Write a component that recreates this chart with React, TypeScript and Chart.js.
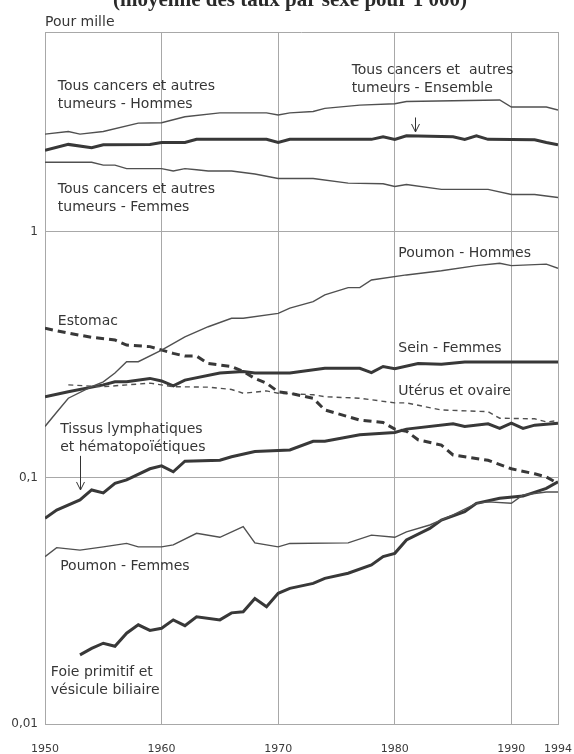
import React, { useEffect, useRef } from 'react';
import { Chart, registerables } from 'chart.js';

Chart.register(...registerables);

// ---------- Data (per mille, log scale) ----------
const xTickYears = [1950, 1960, 1970, 1980, 1990, 1994];
const yTickValues = [0.01, 0.1, 1];
const yTickLabels = ['0,01', '0,1', '1'];

const hommesYears = [1950, 1952, 1953, 1955, 1958, 1960, 1962, 1965, 1969, 1970, 1971, 1973, 1974, 1977, 1980, 1981, 1989, 1990, 1993, 1994];
const hommesValues = [2.50, 2.56, 2.50, 2.56, 2.77, 2.78, 2.94, 3.05, 3.05, 2.99, 3.05, 3.09, 3.18, 3.28, 3.32, 3.39, 3.44, 3.22, 3.22, 3.13];

const ensembleYears = [1950, 1952, 1954, 1955, 1959, 1960, 1962, 1963, 1969, 1970, 1971, 1978, 1979, 1980, 1981, 1985, 1986, 1987, 1988, 1992, 1993, 1994];
const ensembleValues = [2.15, 2.27, 2.20, 2.26, 2.27, 2.31, 2.31, 2.38, 2.38, 2.31, 2.38, 2.38, 2.44, 2.38, 2.46, 2.44, 2.38, 2.46, 2.38, 2.37, 2.31, 2.26];

const femmesYears = [1950, 1954, 1955, 1956, 1957, 1960, 1961, 1962, 1963, 1964, 1966, 1968, 1970, 1973, 1976, 1979, 1980, 1981, 1984, 1988, 1990, 1992, 1994];
const femmesValues = [1.92, 1.92, 1.87, 1.87, 1.81, 1.81, 1.77, 1.81, 1.79, 1.77, 1.77, 1.72, 1.65, 1.65, 1.58, 1.57, 1.53, 1.56, 1.49, 1.49, 1.42, 1.42, 1.38];

const poumonHYears = [1950, 1951, 1952, 1954, 1955, 1956, 1957, 1958, 1960, 1962, 1964, 1966, 1967, 1970, 1971, 1973, 1974, 1976, 1977, 1978, 1981, 1984, 1987, 1989, 1990, 1993, 1994];
const poumonHValues = [0.162, 0.185, 0.211, 0.235, 0.246, 0.267, 0.297, 0.297, 0.331, 0.375, 0.412, 0.446, 0.446, 0.467, 0.490, 0.521, 0.555, 0.594, 0.594, 0.638, 0.669, 0.696, 0.730, 0.746, 0.730, 0.740, 0.712];

const estomacYears = [1950, 1952, 1954, 1956, 1957, 1959, 1961, 1962, 1963, 1964, 1966, 1967, 1968, 1969, 1970, 1971, 1973, 1974, 1977, 1979, 1980, 1981, 1982, 1984, 1985, 1988, 1990, 1992, 1993, 1994];
const estomacValues = [0.406, 0.388, 0.373, 0.364, 0.347, 0.342, 0.321, 0.313, 0.313, 0.292, 0.284, 0.271, 0.254, 0.243, 0.224, 0.221, 0.211, 0.189, 0.172, 0.168, 0.158, 0.155, 0.143, 0.136, 0.124, 0.118, 0.109, 0.104, 0.101, 0.095];

const uterusYears = [1952, 1955, 1959, 1961, 1964, 1966, 1967, 1969, 1970, 1973, 1974, 1977, 1980, 1981, 1984, 1988, 1989, 1992, 1993, 1994];
const uterusValues = [0.239, 0.235, 0.243, 0.235, 0.234, 0.229, 0.221, 0.226, 0.221, 0.218, 0.214, 0.211, 0.202, 0.202, 0.189, 0.186, 0.175, 0.174, 0.169, 0.171];

const seinYears = [1950, 1952, 1955, 1956, 1957, 1959, 1960, 1961, 1962, 1965, 1967, 1968, 1971, 1974, 1977, 1978, 1979, 1980, 1982, 1984, 1986, 1994];
const seinValues = [0.214, 0.224, 0.239, 0.246, 0.246, 0.254, 0.248, 0.237, 0.250, 0.267, 0.271, 0.267, 0.267, 0.279, 0.279, 0.268, 0.284, 0.278, 0.292, 0.290, 0.296, 0.296];

const lymphYears = [1950, 1951, 1953, 1954, 1955, 1956, 1957, 1959, 1960, 1961, 1962, 1965, 1966, 1968, 1971, 1973, 1974, 1977, 1980, 1981, 1985, 1986, 1988, 1989, 1990, 1991, 1992, 1994];
const lymphValues = [0.0686, 0.0741, 0.0814, 0.0894, 0.087, 0.0951, 0.0982, 0.109, 0.112, 0.106, 0.117, 0.118, 0.122, 0.128, 0.130, 0.141, 0.141, 0.150, 0.153, 0.158, 0.166, 0.162, 0.166, 0.159, 0.167, 0.159, 0.164, 0.167];

const poumonFYears = [1950, 1951, 1953, 1955, 1957, 1958, 1960, 1961, 1963, 1965, 1967, 1968, 1970, 1971, 1976, 1978, 1980, 1981, 1983, 1985, 1987, 1988, 1990, 1991, 1993, 1994];
const poumonFValues = [0.0479, 0.0521, 0.0509, 0.0525, 0.0542, 0.0525, 0.0525, 0.0535, 0.0596, 0.0574, 0.0634, 0.0545, 0.0525, 0.0542, 0.0545, 0.0586, 0.0574, 0.0604, 0.0644, 0.0708, 0.0789, 0.0800, 0.0789, 0.0853, 0.0877, 0.0877];

const foieYears = [1953, 1954, 1955, 1956, 1957, 1958, 1959, 1960, 1961, 1962, 1963, 1965, 1966, 1967, 1968, 1969, 1970, 1971, 1973, 1974, 1976, 1978, 1979, 1980, 1981, 1983, 1984, 1986, 1987, 1989, 1991, 1993, 1994];
const foieValues = [0.0191, 0.0203, 0.0213, 0.0207, 0.0234, 0.0253, 0.0240, 0.0245, 0.0265, 0.0251, 0.0273, 0.0265, 0.0283, 0.0286, 0.0324, 0.0300, 0.0340, 0.0356, 0.0373, 0.0391, 0.0410, 0.0443, 0.0479, 0.0494, 0.0560, 0.0624, 0.0675, 0.0729, 0.0789, 0.0827, 0.0844, 0.0908, 0.0966];

// Annotations (anchored in data coordinates)
const noteTexts = [
  'Tous cancers et autres\ntumeurs - Hommes',
  'Tous cancers et  autres\ntumeurs - Ensemble',
  'Tous cancers et autres\ntumeurs - Femmes',
  'Poumon - Hommes',
  'Estomac',
  'Sein - Femmes',
  'Utérus et ovaire',
  'Tissus lymphatiques\net hématopoïétiques',
  'Poumon - Femmes',
  'Foie primitif et\nvésicule biliaire',
];
const noteYears = [1951.1, 1976.3, 1951.1, 1980.3, 1951.1, 1980.3, 1980.3, 1951.3, 1951.3, 1950.5];
const noteValues = [3.92, 4.56, 1.49, 0.819, 0.432, 0.337, 0.224, 0.157, 0.0436, 0.01616];

const arrowYears = [1981.7, 1953.0];
const arrowFromValues = [2.92, 0.123];
const arrowToValues = [2.55, 0.0894];

const titleText = '(moyenne des taux par sexe pour 1 000)';
const unitText = 'Pour mille';

const pts = (xs: number[], ys: number[]) => xs.map((x, i) => ({ x, y: ys[i] }));

const THICK = '#383838';
const THIN = '#505050';
const GRID = '#a8a8a8';

const annotationPlugin = {
  id: 'annotations',
  afterDraw(chart: any) {
    const { ctx, chartArea: a, scales } = chart;
    const xs = scales.x;
    const ys = scales.y;
    ctx.save();
    // frame top
    ctx.strokeStyle = GRID;
    ctx.lineWidth = 1;
    ctx.beginPath();
    ctx.moveTo(a.left, a.top + 0.5);
    ctx.lineTo(a.right, a.top + 0.5);
    ctx.stroke();

    // notes
    ctx.fillStyle = '#363636';
    ctx.font = '14px "DejaVu Sans", sans-serif';
    ctx.textAlign = 'left';
    ctx.textBaseline = 'middle';
    noteTexts.forEach((t, i) => {
      const px = xs.getPixelForValue(noteYears[i]);
      const py = ys.getPixelForValue(noteValues[i]);
      t.split('\n').forEach((line, j) => ctx.fillText(line, px, py + j * 18));
    });

    // arrows
    ctx.strokeStyle = '#333';
    ctx.lineWidth = 1;
    arrowYears.forEach((yr, i) => {
      const px = Math.round(xs.getPixelForValue(yr)) + 0.5;
      const y0 = ys.getPixelForValue(arrowFromValues[i]);
      const y1 = ys.getPixelForValue(arrowToValues[i]);
      ctx.beginPath();
      ctx.moveTo(px, y0);
      ctx.lineTo(px, y1);
      ctx.stroke();
      ctx.beginPath();
      ctx.moveTo(px - 4, y1 - 8);
      ctx.lineTo(px, y1);
      ctx.lineTo(px + 4, y1 - 8);
      ctx.stroke();
    });

    // title (cut at top) and unit
    ctx.fillStyle = '#2a2a2a';
    ctx.font = 'bold 21px "Liberation Serif", serif';
    ctx.textBaseline = 'alphabetic';
    ctx.fillText(titleText, 113, 6);
    ctx.fillStyle = '#363636';
    ctx.font = '14px "DejaVu Sans", sans-serif';
    ctx.textBaseline = 'middle';
    ctx.fillText(unitText, 45, 22);
    ctx.restore();
  },
};

export default function App() {
  const ref = useRef<HTMLCanvasElement>(null);

  useEffect(() => {
    if (!ref.current) return;
    const thick = (data: any, dash: number[] = []) => ({
      data,
      borderColor: THICK,
      borderWidth: 3,
      borderDash: dash,
      pointRadius: 0,
      tension: 0,
      fill: false,
    });
    const thin = (data: any, dash: number[] = []) => ({
      data,
      borderColor: THIN,
      borderWidth: 1.4,
      borderDash: dash,
      pointRadius: 0,
      tension: 0,
      fill: false,
    });
    const chart = new Chart(ref.current, {
      type: 'line',
      data: {
        datasets: [
          thin(pts(hommesYears, hommesValues)),
          thick(pts(ensembleYears, ensembleValues)),
          thin(pts(femmesYears, femmesValues)),
          thin(pts(poumonHYears, poumonHValues)),
          thick(pts(estomacYears, estomacValues), [8, 5]),
          thin(pts(uterusYears, uterusValues), [5, 4]),
          thick(pts(seinYears, seinValues)),
          thick(pts(lymphYears, lymphValues)),
          thin(pts(poumonFYears, poumonFValues)),
          thick(pts(foieYears, foieValues)),
        ] as any,
      },
      options: {
        responsive: false,
        animation: false,
        layout: { padding: { top: 32, right: 16, left: 0, bottom: 0 } },
        plugins: { legend: { display: false }, tooltip: { enabled: false }, title: { display: false } },
        scales: {
          x: {
            type: 'linear',
            min: 1950,
            max: 1994,
            afterBuildTicks: (s: any) => {
              s.ticks = xTickYears.map((v) => ({ value: v }));
            },
            afterFit: (s: any) => {
              s.height = 30;
              s.paddingLeft = 0;
              s.paddingRight = 0;
            },
            ticks: {
              autoSkip: false,
              maxRotation: 0,
              padding: 19,
              color: '#3a3a3a',
              font: { family: '"DejaVu Sans", sans-serif', size: 11 },
              callback: (v: any) => String(v),
            },
            grid: { color: GRID, lineWidth: 1, drawTicks: false, tickLength: 0 },
            border: { display: true, color: GRID },
          },
          y: {
            type: 'logarithmic',
            min: 0.01,
            max: 6.5,
            afterBuildTicks: (s: any) => {
              s.ticks = yTickValues.map((v) => ({ value: v }));
            },
            afterFit: (s: any) => {
              s.width = 45;
              s.paddingTop = 0;
              s.paddingBottom = 0;
            },
            ticks: {
              autoSkip: false,
              padding: 7,
              color: '#3a3a3a',
              font: { family: '"DejaVu Sans", sans-serif', size: 12 },
              callback: (_v: any, i: number) => yTickLabels[i],
            },
            grid: { color: GRID, lineWidth: 1, drawTicks: false, tickLength: 0 },
            border: { display: true, color: GRID },
          },
        },
      } as any,
      plugins: [annotationPlugin],
    });
    return () => chart.destroy();
  }, []);

  return (
    <div style={{ position: 'absolute', left: 0, top: 0, width: 574, height: 754, background: '#ffffff' }}>
      <canvas ref={ref} width={574} height={754} style={{ display: 'block' }} />
    </div>
  );
}
